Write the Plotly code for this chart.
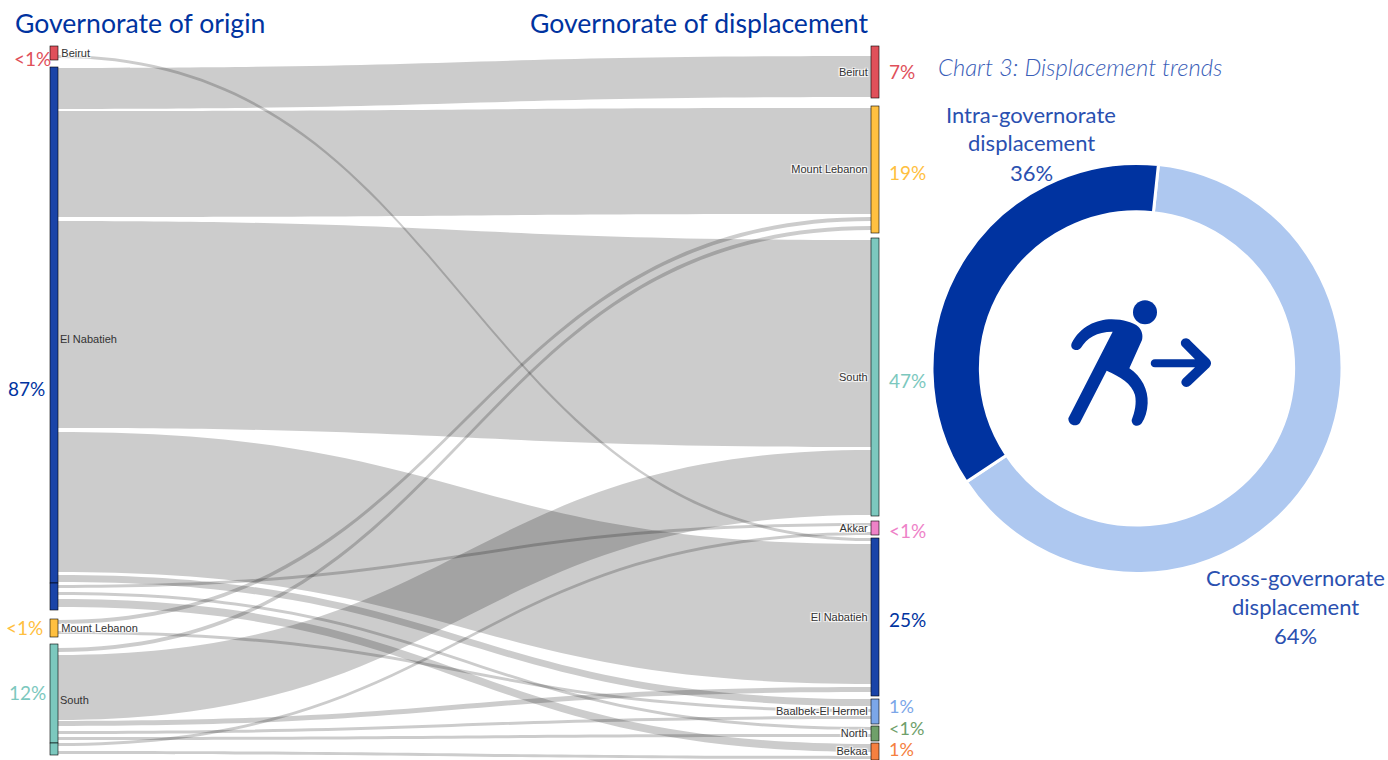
import plotly.graph_objects as go

W, H = 1388, 760

# ---------- data ----------
origin_labels = ["Beirut", "", "", "Mount Lebanon", "", ""]   # El Nabatieh / South nodes are drawn in two pieces
origin_colors = ["#E0505A", "#1A44A8", "#1A44A8", "#FFC040", "#7CC8BE", "#7CC8BE"]
dest_labels = ["Beirut", "Mount Lebanon", "South", "Akkar", "El Nabatieh",
               "Baalbek-El Hermel", "North", "Bekaa"]
dest_colors = ["#E0505A", "#FFC040", "#7CC8BE", "#EE82C8", "#1A44A8",
               "#7BA6E8", "#6FA06A", "#F58040"]

# origin index, destination index, value, visible(1)/spacer(0)
B, N1, N2, ML, S1, S2 = range(6)
dB, dML, dS, dA, dN, dBH, dNo, dBk = range(8)
link_source = [B, B, B,
               N1, N1, N1, N1, N1, N1, N1, N1, N1, N1, N1, N1, N1,
               N2, N2, N2, N2, N2, N2, N2, N2, N2,
               ML, ML, ML, ML, ML, ML, ML,
               S1, S1, S1, S1, S1, S1, S1, S1, S1, S1, S1, S1, S1, S1,
               S2, S2, S2, S2, S2, S2]
link_target = [dB, dN, dN,
               dB, dB, dML, dML, dML, dS, dS, dS, dN, dN, dN, dBH, dBH,
               dA, dA, dA, dNo, dNo, dNo, dBk, dBk, dBk,
               dML, dML, dML, dA, dBH, dBH, dBH,
               dB, dML, dML, dML, dS, dS, dN, dN, dBH, dBH, dBH, dNo, dNo, dNo,
               dA, dBH, dNo, dBk, dBk, dBk]
link_value = [9, 3, 2,
              1, 41, 2, 106, 2, 2, 207, 3, 1, 140, 3, 7, 1,
              2, 3, 3, 1, 3, 3, 1, 8, 3,
              1, 4, 2, 3, 2, 3, 3,
              1, 3, 4, 3, 65, 1, 5, 4, 1, 3, 2, 1, 3, 3,
              3, 3, 1, 1, 3, 1]
link_visible = [0, 1, 0,
                0, 1, 0, 1, 0, 0, 1, 0, 0, 1, 0, 1, 0,
                0, 1, 0, 0, 1, 0, 0, 1, 0,
                0, 1, 0, 0, 0, 1, 0,
                0, 0, 1, 0, 1, 0, 1, 0, 0, 1, 0, 0, 1, 0,
                1, 0, 0, 0, 1, 0]

pie_labels = ["Cross-governorate displacement", "Intra-governorate displacement"]
pie_values = [64, 36]
pie_colors = ["#AEC8F0", "#0033A0"]

origin_pct = ["<1%", "87%", "<1%", "12%"]
dest_pct = ["7%", "19%", "47%", "<1%", "25%", "1%", "<1%", "1%"]

# ---------- layout helpers ----------
px_x = lambda x: x / W
px_y = lambda y: 1 - y / H

SK_X0, SK_X1, SK_Y0, SK_Y1 = 50, 879, 46, 760
SK_H = SK_Y1 - SK_Y0
SK_W = SK_X1 - SK_X0
THICK = 8

origin_top = [46, 67, 583, 619, 644, 743]
dest_top = [46, 106, 238, 521, 538, 699, 726, 743]

n_o = len(origin_labels)
tgt = [t + n_o for t in link_target]
out_h = [0] * (n_o + len(dest_labels))
in_h = [0] * len(out_h)
for s, t, v in zip(link_source, tgt, link_value):
    out_h[s] += v
    in_h[t] += v
heights = [max(a, b) for a, b in zip(out_h, in_h)]

# plotly reads node.x / node.y as the node's centre, as a fraction of the trace domain
node_y = [(top + heights[i] / 2 - SK_Y0) / SK_H for i, top in enumerate(origin_top + dest_top)]
node_x = [(THICK / 2) / SK_W] * n_o + [(SK_W - THICK / 2) / SK_W] * len(dest_labels)


def edge(c):
    if c == "#1A44A8":
        return c
    if c == "#7CC8BE":
        return "#6AB4AA"
    return "rgba(60,60,60,0.7)"


node_line = [edge(c) for c in origin_colors + dest_colors]
LABEL_FONT = "Liberation Sans Narrow, Liberation Sans, Arial"
LABEL_SIZE = 11

sankey = go.Sankey(
    arrangement="fixed",
    domain=dict(x=[px_x(SK_X0), px_x(SK_X1)], y=[0, px_y(SK_Y0)]),
    textfont=dict(family=LABEL_FONT, size=LABEL_SIZE, color="#333"),
    node=dict(label=origin_labels + dest_labels, color=origin_colors + dest_colors,
              x=node_x, y=node_y, pad=4, thickness=THICK,
              line=dict(color=node_line, width=0.6), hoverinfo="skip"),
    link=dict(source=link_source, target=tgt, value=link_value,
              color=["rgba(0,0,0,0.2)" if v else "rgba(0,0,0,0)" for v in link_visible],
              line=dict(width=0), hoverinfo="skip"),
)

cx, cy, r = 1137, 368.5, 205
donut = go.Pie(
    labels=pie_labels, values=pie_values, sort=False, direction="clockwise", rotation=6,
    hole=0.764, textinfo="none", showlegend=False, hoverinfo="skip",
    marker=dict(colors=pie_colors, line=dict(color="white", width=3)),
    domain=dict(x=[px_x(cx - r), px_x(cx + r)], y=[px_y(cy + r), px_y(cy - r)]),
)

FONT = "Lato, Noto Sans, sans-serif"
DARK = "#0033A0"
MID = "#2A50B0"


def note(text, x, y, size, color, anchor="center", italic=False, weight=None):
    f = dict(family=FONT, size=size, color=color)
    if weight:
        f["weight"] = weight
    return dict(text=f"<i>{text}</i>" if italic else text, x=px_x(x), y=px_y(y), xref="paper", yref="paper",
                xanchor=anchor, yanchor="middle", showarrow=False, font=f)


annotations = [
    note("Governorate of origin", 13, 23, 26.6, DARK, "left"),
    note("Governorate of displacement", 528, 23, 26.6, DARK, "left"),
    note("Chart 3: Displacement trends", 936, 67, 23.8, "#3A5EB8", "left", italic=True, weight=300),
    note("Intra-governorate", 1031, 114, 22, MID),
    note("displacement", 1031, 143, 22, MID),
    note("36%", 1031, 172, 22, MID),
    note("Cross-governorate", 1295, 577, 22, MID),
    note("displacement", 1295, 606, 22, MID),
    note("64%", 1295, 635, 22, MID),
]
for txt, x, y, col in zip(origin_pct, [53, 47, 45, 48], [59, 388, 627, 692],
                          ["#E0505A", DARK, "#FFC040", "#7CC8BE"]):
    annotations.append(note(txt, x, y, 19, col, "right"))
for txt, x, y, col, sz in zip(dest_pct, [887] * 8, [72, 172, 381, 530, 619, 706, 728, 749],
                              ["#E0505A", "#FFC040", "#7CC8BE", "#EE82C8", DARK, "#7BA6E8", "#6FA06A", "#F58040"],
                              [19, 19, 19, 19, 19, 18, 18, 18]):
    annotations.append(note(txt, x, y, sz, col, "left"))
for txt, x, y, anc in [("El Nabatieh", 58, 339, "left"), ("South", 58, 700, "left")]:
    annotations.append(dict(text=txt, x=px_x(x), y=px_y(y), xref="paper", yref="paper", xanchor=anc,
                            yanchor="middle", showarrow=False,
                            font=dict(family=LABEL_FONT, size=LABEL_SIZE, color="#333")))


# ---------- icon (decoration, traced in a 3x crop anchored at 1040,280) ----------
def icon_path(cmds):
    out = []
    for c in cmds:
        if isinstance(c, str):
            out.append(c)
        else:
            out.append(f"{px_x(1040 + c[0] / 3):.5f},{px_y(280 + c[1] / 3):.5f}")
    return " ".join(out)


body = ["M", (95, 190), "C", (120, 140), (170, 118), (215, 118), "C", (250, 118), (280, 128), (295, 140),
        "C", (305, 150), (310, 165), (306, 180), "L", (268, 265), "C", (305, 290), (325, 330), (323, 370),
        "C", (322, 395), (315, 415), (305, 430), "C", (297, 442), (275, 440), (275, 420),
        "C", (285, 395), (290, 370), (285, 345), "C", (275, 310), (240, 290), (200, 272),
        "L", (120, 428), "C", (110, 442), (85, 438), (85, 415), "L", (218, 155),
        "C", (170, 155), (140, 175), (123, 203), "C", (112, 218), (88, 208), (95, 190), "Z"]
arrow = ["M", (345, 238), "L", (465, 238), "L", (425, 197), "C", (415, 180), (440, 165), (452, 183),
         "L", (508, 238), "C", (515, 245), (515, 255), (508, 262), "L", (452, 315),
         "C", (437, 330), (415, 312), (428, 297), "L", (465, 262), "L", (345, 262),
         "C", (328, 262), (328, 238), (345, 238), "Z"]
shapes = [
    dict(type="path", xref="paper", yref="paper", path=icon_path(body), fillcolor=DARK, line=dict(width=0)),
    dict(type="path", xref="paper", yref="paper", path=icon_path(arrow), fillcolor=DARK, line=dict(width=0)),
    dict(type="circle", xref="paper", yref="paper", x0=px_x(1133), x1=px_x(1157), y0=px_y(324.3), y1=px_y(300.3),
         fillcolor=DARK, line=dict(width=0)),
]

fig = go.Figure([sankey, donut])
fig.update_layout(width=W, height=H, margin=dict(l=0, r=0, t=0, b=0), paper_bgcolor="white",
                  plot_bgcolor="white", annotations=annotations, shapes=shapes, showlegend=False)
fig.write_html("out.html", config=dict(displayModeBar=False),
               post_script="document.body.style.margin='0';document.body.style.overflow='hidden';")
